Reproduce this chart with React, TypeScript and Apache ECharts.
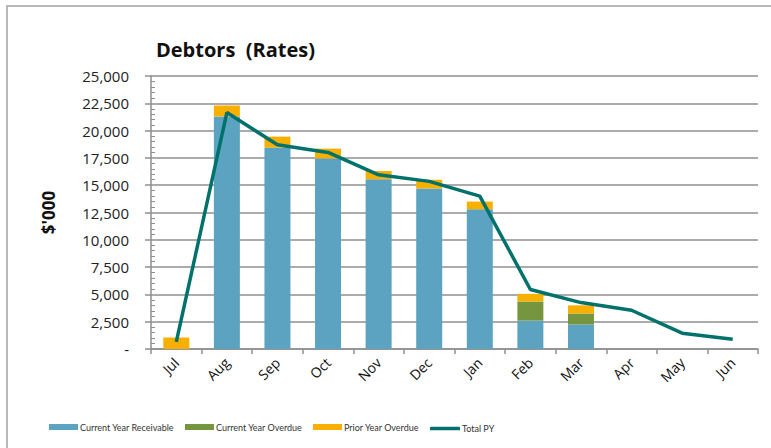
import React, { useEffect, useRef } from "react";
import * as echarts from "echarts";

const months = ["Jul", "Aug", "Sep", "Oct", "Nov", "Dec", "Jan", "Feb", "Mar", "Apr", "May", "Jun"];
const currentYearReceivable = [0, 21300, 18450, 17450, 15550, 14700, 12800, 2600, 2250, null, null, null];
const currentYearOverdue = [0, 0, 0, 0, 0, 0, 0, 1750, 1000, null, null, null];
const priorYearOverdue = [1050, 1000, 1000, 900, 750, 800, 700, 700, 750, null, null, null];
const totalPY = [650, 21650, 18700, 18000, 15950, 15350, 14000, 5450, 4250, 3550, 1450, 900];

const seriesNames = ["Current Year Receivable", "Current Year Overdue", "Prior Year Overdue", "Total PY"];
const seriesColors = ["#5ba3c0", "#76953f", "#f7b000", "#00726b"];

const FONT = "'Open Sans', Lato, sans-serif";
const LEGEND_FONT = "Lato, sans-serif";

export default function App() {
  const ref = useRef<HTMLDivElement>(null);
  useEffect(() => {
    if (!ref.current) return;
    const chart = echarts.init(ref.current, undefined, { renderer: "svg" });
    const gridColor = "#8f8f8f";
    const legendLefts = [49, 185, 313, 430];
    const legends = seriesNames.map((name, i) => ({
      left: legendLefts[i],
      top: i === 3 ? 424 : 422.5,
      padding: 0,
      itemWidth: i === 3 ? 30 : 29,
      itemHeight: i === 3 ? 3.5 : 6,
      textStyle: { fontFamily: LEGEND_FONT, fontSize: 9, color: "#333", padding: [0, 0, 0, -3] },
      data: [{ name, icon: i === 3 ? "roundRect" : "rect", itemStyle: { color: seriesColors[i] } }],
    }));
    chart.setOption({
      animation: false,
      backgroundColor: "#ffffff",
      textStyle: { fontFamily: FONT },
      title: {
        text: "Debtors  (Rates)",
        left: 151,
        top: 34,
        textStyle: { fontFamily: FONT, fontSize: 20, fontWeight: "bold", color: "#111" },
      },
      graphic: [
        {
          type: "rect",
          shape: { x: 7, y: 6, width: 800, height: 500 },
          style: { fill: "none", stroke: "#a3a3a3", lineWidth: 1.5 },
          silent: true,
        },
      ],
      legend: legends,
      grid: { left: 151, right: 13, top: 76, bottom: 99, containLabel: false },
      xAxis: {
        type: "category",
        data: months,
        boundaryGap: true,
        axisLine: { show: true, lineStyle: { color: gridColor, width: 1.5 } },
        axisTick: { show: true, length: 5, alignWithLabel: false, lineStyle: { color: gridColor, width: 1.5 } },
        axisLabel: { rotate: 45, fontFamily: FONT, fontSize: 14, color: "#111", margin: 11 },
      },
      yAxis: [
        {
          type: "value",
          min: 0,
          max: 25000,
          interval: 2500,
          name: "$'000",
          nameLocation: "middle",
          nameGap: 94,
          nameRotate: 90,
          nameTextStyle: { fontFamily: FONT, fontSize: 17, fontWeight: "bold", color: "#111" },
          axisLine: { show: true, lineStyle: { color: gridColor, width: 1.5 } },
          axisTick: { show: true, length: 6, lineStyle: { color: gridColor, width: 1.5 } },
          splitLine: { show: true, lineStyle: { color: gridColor, width: 1.5 } },
          axisLabel: {
            fontFamily: FONT,
            fontSize: 15,
            color: "#222",
            margin: 22,
            formatter: (v: number) => (v === 0 ? "-" : v.toLocaleString("en-US")),
          },
        },
        {
          type: "value",
          min: 0,
          max: 25000,
          interval: 2500,
          position: "left",
          axisLine: { show: false },
          axisTick: { show: false, inside: true },
          axisLabel: { show: false },
          splitLine: { show: false },
          minorTick: { show: true, splitNumber: 5, length: 4, lineStyle: { color: gridColor, width: 1 } },
        },
      ],
      series: [
        {
          name: seriesNames[0],
          type: "bar",
          stack: "d",
          barWidth: 26,
          data: currentYearReceivable,
          itemStyle: { color: seriesColors[0] },
        },
        {
          name: seriesNames[1],
          type: "bar",
          stack: "d",
          barWidth: 26,
          data: currentYearOverdue,
          itemStyle: { color: seriesColors[1] },
        },
        {
          name: seriesNames[2],
          type: "bar",
          stack: "d",
          barWidth: 26,
          data: priorYearOverdue,
          itemStyle: { color: seriesColors[2] },
        },
        {
          name: seriesNames[3],
          type: "line",
          data: totalPY,
          symbol: "none",
          z: 5,
          lineStyle: { color: seriesColors[3], width: 3.5 },
          itemStyle: { color: seriesColors[3] },
        },
      ],
    });
    return () => chart.dispose();
  }, []);
  return <div ref={ref} style={{ position: "fixed", left: 0, top: 0, width: 771, height: 448 }} />;
}
